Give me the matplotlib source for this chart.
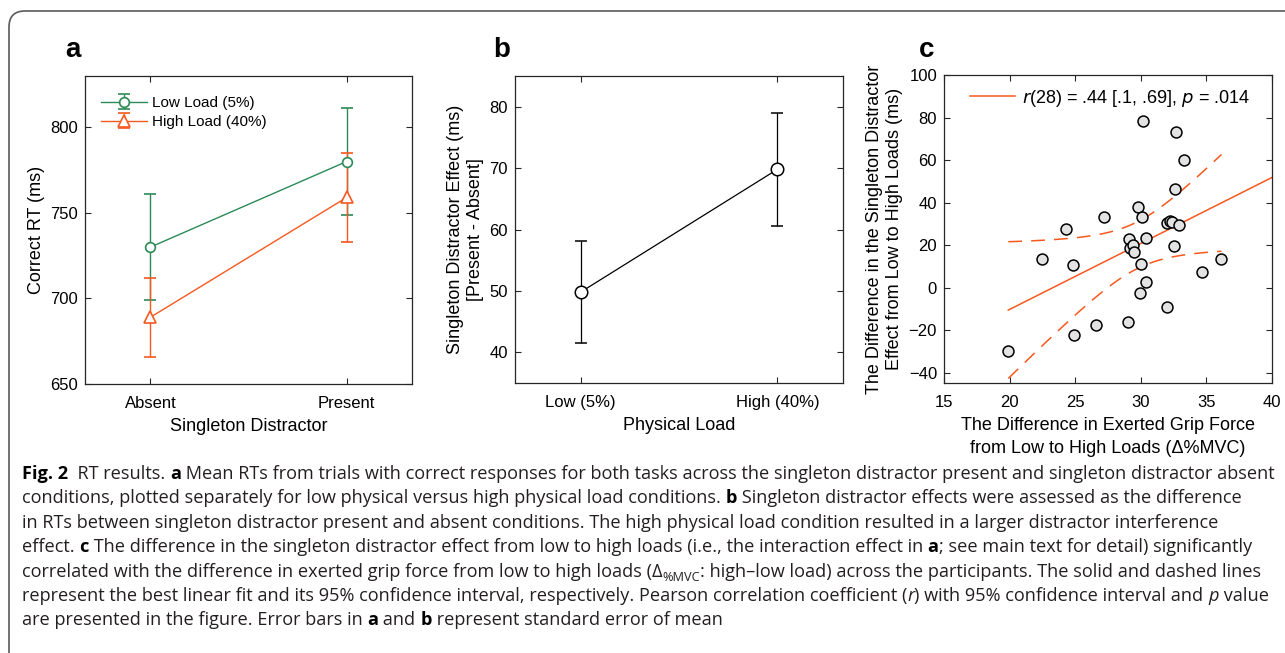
import matplotlib
matplotlib.use("Agg")
import matplotlib.pyplot as plt
from matplotlib.patches import FancyBboxPatch
from matplotlib.font_manager import FontProperties
import numpy as np

# panel a: mean correct RT with SEM
conditions = ["Absent", "Present"]
low_rt = [730, 780]
low_sem = [31, 31.5]
high_rt = [689, 759]
high_sem = [23, 26]

# panel b: singleton distractor effect
loads = ["Low (5%)", "High (40%)"]
effect = [49.8, 69.8]
effect_sem = [8.3, 9.2]

# panel c: per participant differences
grip_diff = [19.9, 22.5, 24.3, 24.85, 24.9, 26.6, 27.2, 29.05, 29.1, 29.2,
             29.4, 29.5, 29.8, 30.1, 29.95, 30.0, 30.15, 30.4, 30.4, 32.0,
             32.0, 32.2, 32.4, 32.55, 32.6, 32.65, 32.9, 33.3, 34.7, 36.15]
effect_diff = [-29.8, 13.7, 27.7, 10.7, -22.3, -17.5, 33.2, -16.1, 22.9, 18.7,
               20.2, 16.8, 38.2, 33.5, -2.6, 11.0, 78.4, 23.5, 2.9, -9.2,
               30.7, 31.6, 30.9, 19.8, 46.5, 73.4, 29.3, 60.1, 7.4, 13.7]

W, H = 1285, 653
GREEN = "#2b8a57"
ORANGE = "#f7581e"
INK = "#262626"
CHART_FONT = "Liberation Sans"

plt.rcParams["font.family"] = CHART_FONT
plt.rcParams["axes.edgecolor"] = INK
plt.rcParams["axes.linewidth"] = 0.9

fig = plt.figure(figsize=(W / 100, H / 100), dpi=100)


def px_axes(left, top, right, bottom):
    return fig.add_axes([left / W, 1 - bottom / H, (right - left) / W, (bottom - top) / H])


def style(ax):
    ax.tick_params(direction="in", length=4, width=0.8, top=True, right=True,
                   labelsize=12, colors=INK, pad=5)
    ax.tick_params(axis="x", pad=8.5)
    for lab in ax.get_xticklabels() + ax.get_yticklabels():
        lab.set_color("black")


# ---- a ----
ax1 = px_axes(85, 76, 412, 384)
xs = np.array([1, 2])
ax1.errorbar(xs, low_rt, yerr=low_sem, color=GREEN, lw=1, marker="o", ms=7,
             mfc="white", mec=GREEN, mew=1.2, capsize=4.5, capthick=1,
             label="Low Load (5%)")
ax1.errorbar(xs, high_rt, yerr=high_sem, color=ORANGE, lw=1, marker="^", ms=8,
             mfc="white", mec=ORANGE, mew=1.2, capsize=4.5, capthick=1,
             label="High Load (40%)")
ax1.set_xlim(2 / 3, 7 / 3)
ax1.set_ylim(650, 830)
ax1.set_yticks([650, 700, 750, 800])
ax1.set_xticks(xs)
ax1.set_xticklabels(conditions)
ax1.set_xlabel("Singleton Distractor", fontsize=13, labelpad=5)
ax1.set_ylabel("Correct RT (ms)", fontsize=13, labelpad=4)
ax1.legend(loc="upper left", frameon=False, fontsize=11, handlelength=3.0,
           handletextpad=0.35, labelspacing=0.35, borderaxespad=0.9,
           bbox_to_anchor=(-0.012, 1.0))
style(ax1)

# ---- b ----
ax2 = px_axes(515, 76, 843, 383)
ax2.errorbar(xs, effect, yerr=effect_sem, color="black", lw=0.9, marker="o", ms=9,
             mfc="white", mec="black", mew=1.1, capsize=4.5, capthick=1)
ax2.set_xlim(2 / 3, 7 / 3)
ax2.set_ylim(35, 85)
ax2.set_yticks([40, 50, 60, 70, 80])
ax2.set_xticks(xs)
ax2.set_xticklabels(loads)
ax2.set_xlabel("Physical Load", fontsize=13, labelpad=5)
ax2.set_ylabel("Singleton Distractor Effect (ms)\n[Present - Absent]", fontsize=13,
               labelpad=4, linespacing=1.25)
style(ax2)

# ---- c ----
ax3 = px_axes(944, 75, 1272, 383)
gx = np.array(grip_diff)
gy = np.array(effect_diff)
n = len(gx)
slope, icpt = np.polyfit(gx, gy, 1)
resid = gy - (slope * gx + icpt)
s = np.sqrt(np.sum(resid ** 2) / (n - 2))
sxx = np.sum((gx - gx.mean()) ** 2)
band_k = np.sqrt(2 * 3.340)  # simultaneous band, F(0.95; 2, 28)
xfit = np.linspace(gx.min(), 40, 100)
ax3.plot(xfit, slope * xfit + icpt, color=ORANGE, lw=1.1,
         label=r"$\it{r}$(28) = .44 [.1, .69], $\it{p}$ = .014")
xci = np.linspace(gx.min(), gx.max(), 100)
half = band_k * s * np.sqrt(1 / n + (xci - gx.mean()) ** 2 / sxx)
yci = slope * xci + icpt
ax3.plot(xci, yci + half, color=ORANGE, lw=1.1, dashes=(9, 6))
ax3.plot(xci, yci - half, color=ORANGE, lw=1.1, dashes=(9, 6))
ax3.scatter(gx, gy, s=62, c="#e3e3e3", edgecolors="black", linewidths=1.1, zorder=3)
ax3.set_xlim(15, 40)
ax3.set_ylim(-44.7, 100)
ax3.set_xticks([15, 20, 25, 30, 35, 40])
ax3.set_yticks([-40, -20, 0, 20, 40, 60, 80, 100])
ax3.set_xlabel("The Difference in Exerted Grip Force\nfrom Low to High Loads (Δ%MVC)",
               fontsize=13, labelpad=5, linespacing=1.5)
ax3.set_ylabel("The Difference in the Singleton Distractor\nEffect from Low to High Loads (ms)",
               fontsize=13, labelpad=4, linespacing=1.25)
ax3.legend(loc="upper left", frameon=False, fontsize=13, handlelength=2.5,
           handletextpad=0.4, borderaxespad=0.3, bbox_to_anchor=(0.04, 1.0))
style(ax3)

# panel letters
for xp, letter in [(73, "a"), (502, "b"), (927, "c")]:
    fig.text(xp / W, 1 - 50 / H, letter, fontsize=20, fontweight="bold",
             ha="center", va="center", family="Liberation Sans")

# rounded frame
fig.patches.append(FancyBboxPatch((0.09, -1.0), 14, 6.42 + 1.0,
                                  boxstyle="round,pad=0,rounding_size=0.16",
                                  transform=fig.dpi_scale_trans, fill=False,
                                  ec="#5a5a5a", lw=1.2))

# caption
CAP_FONT = "Open Sans"
CAP_SIZE = 13.08
CAP_COLOR = "#231f20"
renderer = fig.canvas.get_renderer()


def text_width(txt, size, weight="normal", style="normal"):
    fp = FontProperties(family=CAP_FONT, size=size, weight=weight, style=style)
    w1, _, _ = renderer.get_text_width_height_descent(txt + "|", fp, ismath=False)
    w2, _, _ = renderer.get_text_width_height_descent("|", fp, ismath=False)
    return w1 - w2


def caption_line(y_px, parts):
    x = 22.0
    for part in parts:
        txt, kind = part if isinstance(part, tuple) else (part, "n")
        weight = "bold" if kind == "b" else "normal"
        fstyle = "italic" if kind == "i" else "normal"
        size = CAP_SIZE * 0.7 if kind == "sub" else CAP_SIZE
        dy = 4 if kind == "sub" else 0
        color = "black" if kind == "b" else CAP_COLOR
        fig.text(x / W, 1 - (y_px + dy) / H, txt, fontsize=size, family=CAP_FONT,
                 fontweight=weight, fontstyle=fstyle, color=color,
                 ha="left", va="baseline")
        x += text_width(txt, size, weight, fstyle)


caption = [
    [("Fig. 2", "b"), "  RT results. ", ("a", "b"),
     " Mean RTs from trials with correct responses for both tasks across the singleton distractor present and singleton distractor absent"],
    ["conditions, plotted separately for low physical versus high physical load conditions. ", ("b", "b"),
     " Singleton distractor effects were assessed as the difference"],
    ["in RTs between singleton distractor present and absent conditions. The high physical load condition resulted in a larger distractor interference"],
    ["effect. ", ("c", "b"),
     " The difference in the singleton distractor effect from low to high loads (i.e., the interaction effect in ",
     ("a", "b"), "; see main text for detail) significantly"],
    ["correlated with the difference in exerted grip force from low to high loads (Δ", ("%MVC", "sub"),
     ": high\u2013low load) across the participants. The solid and dashed lines"],
    ["represent the best linear fit and its 95% confidence interval, respectively. Pearson correlation coefficient (",
     ("r", "i"), ") with 95% confidence interval and ", ("p", "i"), " value"],
    ["are presented in the figure. Error bars in ", ("a", "b"), " and ", ("b", "b"),
     " represent standard error of mean"],
]
for i, parts in enumerate(caption):
    caption_line(479 + i * 24.4, parts)

fig.savefig("out.png", dpi=100)
